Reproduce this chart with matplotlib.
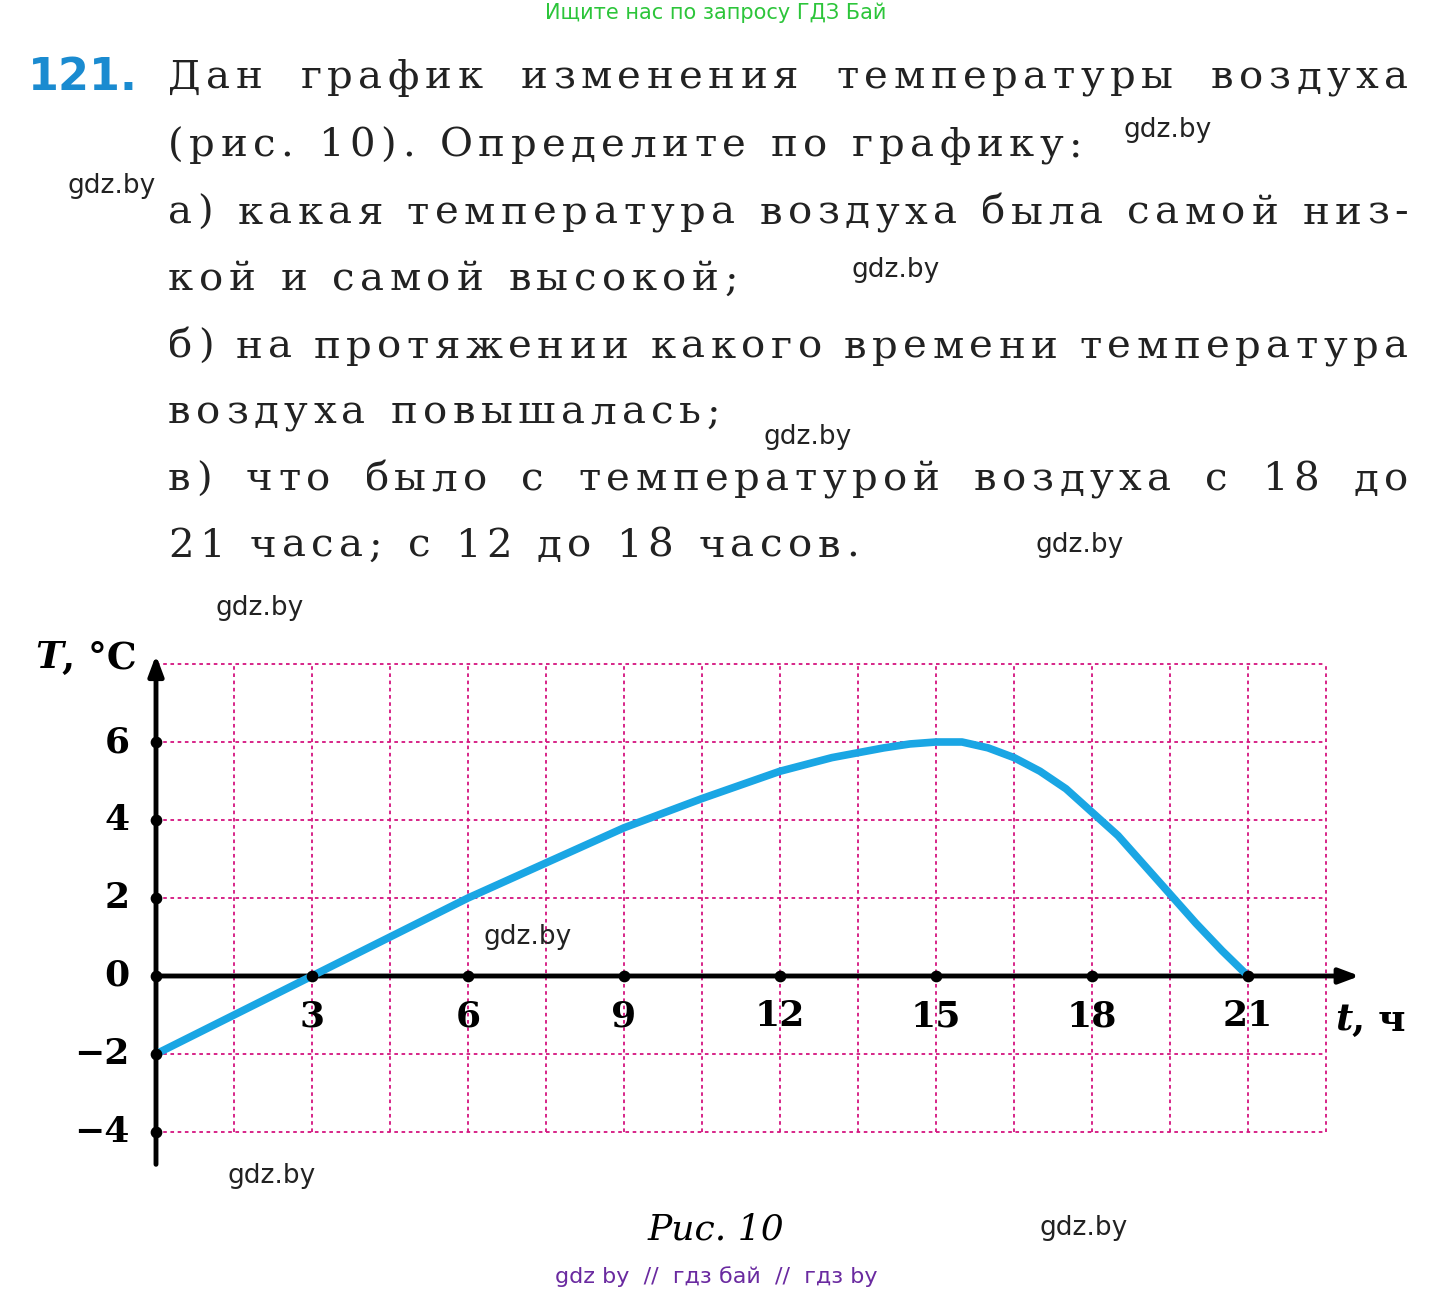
import matplotlib
matplotlib.use("Agg")
import matplotlib.pyplot as plt
import numpy as np

W, H = 1433, 1294
t_pts = [0, 1.5, 3, 4.5, 6, 7.5, 9, 10.5, 12, 13, 14, 14.5, 15, 15.5, 16, 16.5, 17, 17.5, 18, 18.5, 19, 19.5, 20, 20.5, 21]
T_pts = [-2, -1.0, 0, 1.0, 2.0, 2.9, 3.8, 4.55, 5.25, 5.6, 5.85, 5.95, 6.0, 6.0, 5.85, 5.6, 5.25, 4.8, 4.2, 3.6, 2.85, 2.1, 1.35, 0.65, 0]
x_ticks = [3, 6, 9, 12, 15, 18, 21]
y_ticks = [-4, -2, 0, 2, 4, 6]

fig = plt.figure(figsize=(W/100, H/100), dpi=100)
ax = fig.add_axes([0, 0, 1, 1])
ax.set_xlim(-156/52, (W-156)/52)
ax.set_ylim(-(H-976)/39, 976/39)
ax.axis('off')

def px(x, y):
    return x / W, 1 - y / H

serif = ['DejaVu Serif']
grid_c = '#d4147f'
for gx in np.arange(0, 22.51, 1.5):
    ax.plot([gx, gx], [-4, 8], color=grid_c, lw=1.3, ls=(0, (2, 2)), zorder=1)
for gy in np.arange(-4, 8.01, 2):
    ax.plot([0, 22.5], [gy, gy], color=grid_c, lw=1.3, ls=(0, (2, 2)), zorder=1)

ax.annotate('', xy=(23.2, 0), xytext=(0, 0),
            arrowprops=dict(arrowstyle='-|>,head_length=1.2,head_width=0.45', color='black', lw=3.5), zorder=3)
ax.annotate('', xy=(0, 8.3), xytext=(0, -4.9),
            arrowprops=dict(arrowstyle='-|>,head_length=1.2,head_width=0.45', color='black', lw=3.5), zorder=3)

ax.plot(t_pts, T_pts, color='#1aa6e4', lw=5.5, solid_capstyle='round', solid_joinstyle='round', zorder=4)
ax.scatter(x_ticks + [0]*len(y_ticks), [0]*len(x_ticks) + y_ticks, s=55, color='black', zorder=5)

for x in x_ticks:
    ax.text(x, -0.6, str(x), ha='center', va='top', fontsize=26, fontweight='bold', family=serif)
for y in y_ticks:
    lab = str(y).replace('-', '\u2212')
    ax.text(-0.5, y, lab, ha='right', va='center', fontsize=26, fontweight='bold', family=serif)
fig.text(*px(35, 658), 'T', ha='left', va='center', fontsize=27, family=serif, style='italic', fontweight='bold')
fig.text(*px(62, 658), ', °C', ha='left', va='center', fontsize=27, family=serif, fontweight='bold')
fig.text(*px(1335, 1020), 't', ha='left', va='center', fontsize=27, family=serif, style='italic', fontweight='bold')
fig.text(*px(1352, 1020), ', ч', ha='left', va='center', fontsize=27, family=serif, fontweight='bold')

fig.text(*px(716, 13), 'Ищите нас по запросу ГДЗ Бай', ha='center', va='center', fontsize=15, color='#2cc53a', family='DejaVu Sans')
fig.text(*px(28, 78), '121.', ha='left', va='center', fontsize=32, fontweight='bold', color='#1a8bd0', family='DejaVu Sans')

lines = [
    (78, 'Дан график изменения температуры воздуха', True),
    (146, '(рис. 10). Определите по графику:', False),
    (213, 'а) какая температура воздуха была самой низ-', True),
    (280, 'кой и самой высокой;', False),
    (347, 'б) на протяжении какого времени температура', True),
    (413, 'воздуха повышалась;', False),
    (480, 'в) что было с температурой воздуха с 18 до', True),
    (546, '21 часа; с 12 до 18 часов.', False),
]
fig.canvas.draw()
r = fig.canvas.get_renderer()
L, R = 168, 1408
fs = 29
track = 5.5
space_w = 14
cache = {}
def cw(ch):
    if ch not in cache:
        o = fig.text(0, 0, ch, fontsize=fs, family=serif)
        cache[ch] = o.get_window_extent(r).width
        o.remove()
    return cache[ch]
def word_w(w):
    return sum(cw(c) + track for c in w) - track
for y, s, just in lines:
    words = s.split(' ')
    widths = [word_w(w) for w in words]
    gap = (R - L - sum(widths)) / (len(words) - 1) if just else space_w + track * 2
    x = L
    for w, ww in zip(words, widths):
        xc = x
        for c in w:
            fig.text(*px(xc, y), c, ha='left', va='center', fontsize=fs, family=serif, color='#222')
            xc += cw(c) + track
        x += ww + gap

fig.text(*px(716, 1230), 'Рис. 10', ha='center', va='center', fontsize=26, style='italic', family=serif)

for x, y in [(1168, 130), (112, 186), (896, 270), (808, 437), (1080, 545), (260, 608),
             (528, 937), (272, 1176), (1084, 1228)]:
    fig.text(*px(x, y), 'gdz.by', ha='center', va='center', fontsize=19, family='DejaVu Sans', color='#222')
fig.text(*px(716, 1277), 'gdz by  //  гдз бай  //  гдз by', ha='center', va='center', fontsize=16, color='#6a2aa0', family='DejaVu Sans')

fig.savefig('out.png', dpi=100)
